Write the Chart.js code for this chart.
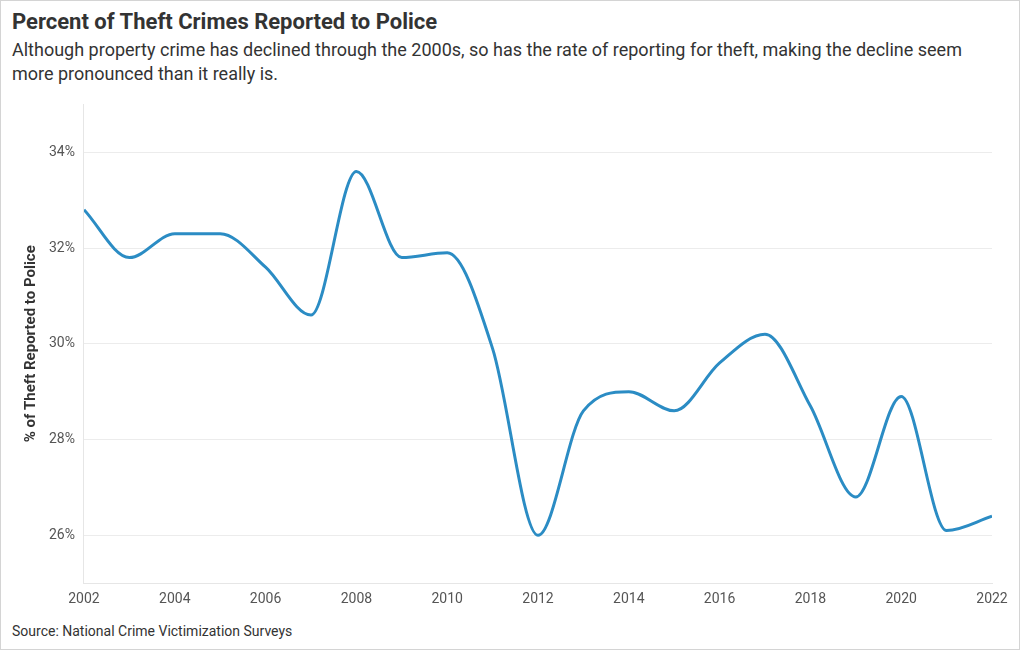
<!DOCTYPE html>
<html>
<head>
<meta charset="utf-8">
<script src="https://cdn.jsdelivr.net/npm/chart.js@4"></script>
<style>
  body { margin: 0; background: #fff; font-family: Roboto, sans-serif; }
  #wrap { position: relative; width: 1018px; height: 648px; border: 1px solid #d4d4d4; }
  #title { position: absolute; left: 11px; top: 8px; font-size: 22px; font-weight: bold; color: #333; }
  #sub { position: absolute; left: 11px; top: 37px; width: 975px; font-size: 18px; line-height: 24px; color: #333; }
  #src { position: absolute; left: 11px; top: 622px; font-size: 14px; color: #333; }
  #box { position: absolute; left: 0; top: 86px; width: 1018px; height: 529px; }
</style>
</head>
<body>
<div id="wrap">
  <div id="title">Percent of Theft Crimes Reported to Police</div>
  <div id="sub">Although property crime has declined through the 2000s, so has the rate of reporting for theft, making the decline seem more pronounced than it really is.</div>
  <div id="box"><canvas id="myChart"></canvas></div>
  <div id="src">Source: National Crime Victimization Surveys</div>
</div>
<script>
var years = [2002, 2003, 2004, 2005, 2006, 2007, 2008, 2009, 2010, 2011, 2012,
             2013, 2014, 2015, 2016, 2017, 2018, 2019, 2020, 2021, 2022];
var reported = [32.8, 31.8, 32.3, 32.3, 31.6, 30.6, 33.6, 31.8, 31.9, 29.9, 26.0,
                28.6, 29.0, 28.6, 29.6, 30.2, 28.7, 26.8, 28.9, 26.1, 26.4];
var yTicks = [26, 28, 30, 32, 34];

var points = years.map(function(y, i) { return { x: y, y: reported[i] }; });

var ctx = document.getElementById('myChart').getContext('2d');
var chart = new Chart(ctx, {
    type: 'line',
    data: {
        datasets: [{
            label: '% of Theft Reported to Police',
            data: points,
            borderColor: '#2b8cc4',
            borderWidth: 3,
            pointRadius: 0,
            fill: false,
            cubicInterpolationMode: 'monotone'
        }]
    },
    options: {
        responsive: true,
        maintainAspectRatio: false,
        animation: false,
        layout: { padding: { top: 10, right: 27, left: 0, bottom: 0 } },
        plugins: {
            legend: { display: false },
            tooltip: { enabled: false }
        },
        scales: {
            x: {
                type: 'linear',
                min: 2002,
                max: 2022,
                ticks: {
                    stepSize: 2,
                    padding: 8,
                    color: '#555',
                    font: { family: 'Roboto', size: 14 },
                    callback: function(v) { return String(v); }
                },
                grid: { display: false, drawTicks: false },
                border: { color: '#e6e6e6' }
            },
            y: {
                min: 25,
                max: 35,
                afterBuildTicks: function(axis) {
                    axis.ticks = yTicks.map(function(v) { return { value: v }; });
                },
                ticks: {
                    color: '#555',
                    padding: 9,
                    font: { family: 'Roboto', size: 14 },
                    callback: function(v) { return v + '%'; }
                },
                grid: { color: '#ececec', drawTicks: false },
                border: { color: '#e6e6e6' },
                title: {
                    display: true,
                    text: '% of Theft Reported to Police',
                    color: '#333',
                    padding: { top: 21, bottom: 0 },
                    font: { family: 'Roboto', size: 15, weight: 'bold' }
                }
            }
        }
    }
});
</script>
</body>
</html>
